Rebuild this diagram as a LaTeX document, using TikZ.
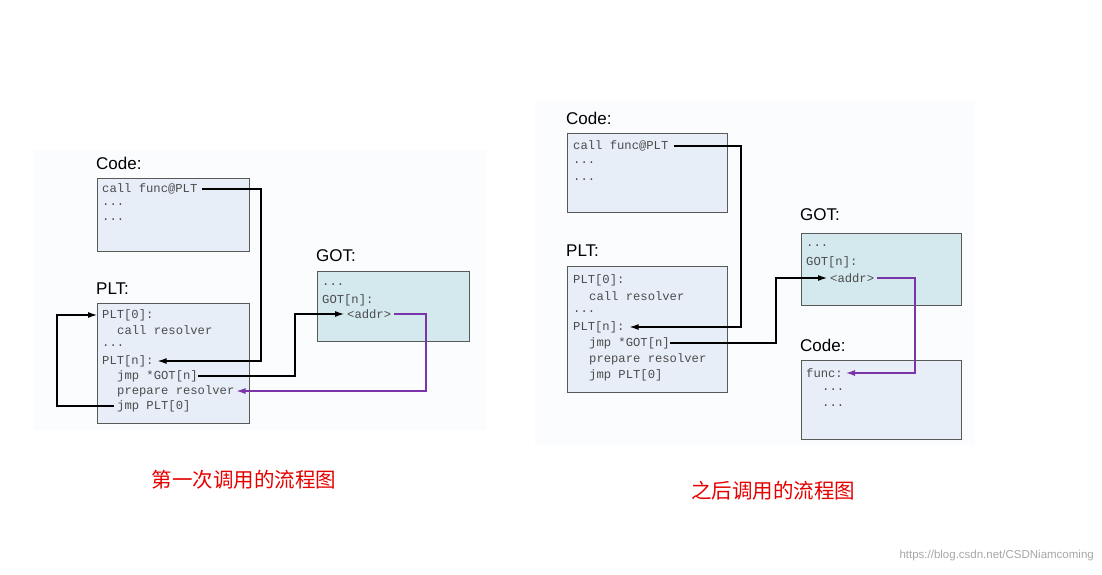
\documentclass[tikz,border=0pt]{standalone}
\usepackage{fontspec}
\setmainfont{Liberation Sans}
\newfontfamily\cjk{Noto Sans CJK SC}
\newfontfamily\mono{Liberation Mono}
\usetikzlibrary{arrows.meta}
\definecolor{boxfill}{HTML}{E8EEF8}
\definecolor{gotfill}{HTML}{D3E9EE}
\definecolor{panel}{HTML}{FBFCFE}
\definecolor{pur}{HTML}{7B35A8}
\begin{document}
\begin{tikzpicture}[x=1pt,y=-1pt,
  box/.style={draw=black!65,line width=0.8pt,fill=boxfill},
  gbox/.style={box,fill=gotfill},
  ln/.style={anchor=west,inner sep=0pt,font=\mono\fontsize{12.2}{13}\selectfont,text=black!70},
  lab/.style={anchor=west,inner sep=0pt,font=\fontsize{17}{18}\selectfont},
  zcap/.style={inner sep=0pt,font=\cjk\fontsize{20.5}{22}\selectfont,text=red!90!black},
  ar/.style={line width=1.1pt,-{Latex[length=9pt,width=6pt]}},
  par/.style={ar,draw=pur}]
\useasboundingbox (0,0) rectangle (1102,574);
\fill[panel] (33,150) rectangle (487,430);
\fill[panel] (535,100) rectangle (975,445);
% ---------- left ----------
\node[lab] (lc) at (96,163) {Code:};
\draw[box] (97,178) rectangle (249,251);
\node[ln] (l1) at (102,189) {call func@PLT};
\node[ln] at (102,205) {...};
\node[ln] at (102,220) {...};
\node[lab] (lp) at (96,289) {PLT:};
\draw[box] (97,303) rectangle (249,423);
\node[ln] (p0) at (102,315) {PLT[0]:};
\node[ln] at (117,330) {call resolver};
\node[ln] at (102,346) {...};
\node[ln] (pn) at (102,361) {PLT[n]:};
\node[ln] (pj) at (117,376) {jmp *GOT[n]};
\node[ln] (pr) at (117,391) {prepare resolver};
\node[ln] (pk) at (117,406) {jmp PLT[0]};
\node[lab] (lg) at (316,256) {GOT:};
\draw[gbox] (317,271) rectangle (469,341);
\node[ln] at (322,285) {...};
\node[ln] at (322,300) {GOT[n]:};
\node[ln] (ga) at (347,314) {<addr>};
\draw[ar] ([xshift=4pt]l1.east) -- (261,189) -- (261,361) -- ([xshift=4pt]pn.east);
\draw[ar] (pj.east) -- (295,376) -- (295,314) -- ([xshift=-3pt]ga.west);
\draw[par] ([xshift=3pt]ga.east) -- (426,314) -- (426,391) -- ([xshift=2pt]pr.east);
\draw[ar] ([xshift=-3pt]pk.west) -- (57,406) -- (57,315) -- (97,315);
\node[zcap] at (244,480) {第一次调用的流程图};
% ---------- right ----------
\node[lab] at (566,118) {Code:};
\draw[box] (567,133) rectangle (727,212);
\node[ln] (r1) at (573,146) {call func@PLT};
\node[ln] at (573,163) {...};
\node[ln] at (573,180) {...};
\node[lab] at (566,251) {PLT:};
\draw[box] (567,266) rectangle (727,392);
\node[ln] at (573,280) {PLT[0]:};
\node[ln] at (589,296) {call resolver};
\node[ln] at (573,312) {...};
\node[ln] (rn) at (573,327) {PLT[n]:};
\node[ln] (rj) at (589,343) {jmp *GOT[n]};
\node[ln] at (589,359) {prepare resolver};
\node[ln] at (589,375) {jmp PLT[0]};
\node[lab] at (800,215) {GOT:};
\draw[gbox] (801,233) rectangle (961,305);
\node[ln] at (806,246) {...};
\node[ln] at (806,262) {GOT[n]:};
\node[ln] (ra) at (830,278) {<addr>};
\node[lab] at (800,345) {Code:};
\draw[box] (801,360) rectangle (961,439);
\node[ln] (rf) at (806,373) {func:};
\node[ln] at (822,390) {...};
\node[ln] at (822,406) {...};
\draw[ar] ([xshift=5pt]r1.east) -- (741,146) -- (741,327) -- ([xshift=5pt]rn.east);
\draw[ar] (rj.east) -- (776,343) -- (776,278) -- ([xshift=-3pt]ra.west);
\draw[par] ([xshift=3pt]ra.east) -- (915,278) -- (915,373) -- ([xshift=3pt]rf.east);
\node[zcap] at (773,491) {之后调用的流程图};
\node[anchor=east,inner sep=0pt,font=\fontsize{11.5}{12}\selectfont,text=black!35] at (1094,556) {https://blog.csdn.net/CSDNiamcoming};
\end{tikzpicture}
\end{document}
